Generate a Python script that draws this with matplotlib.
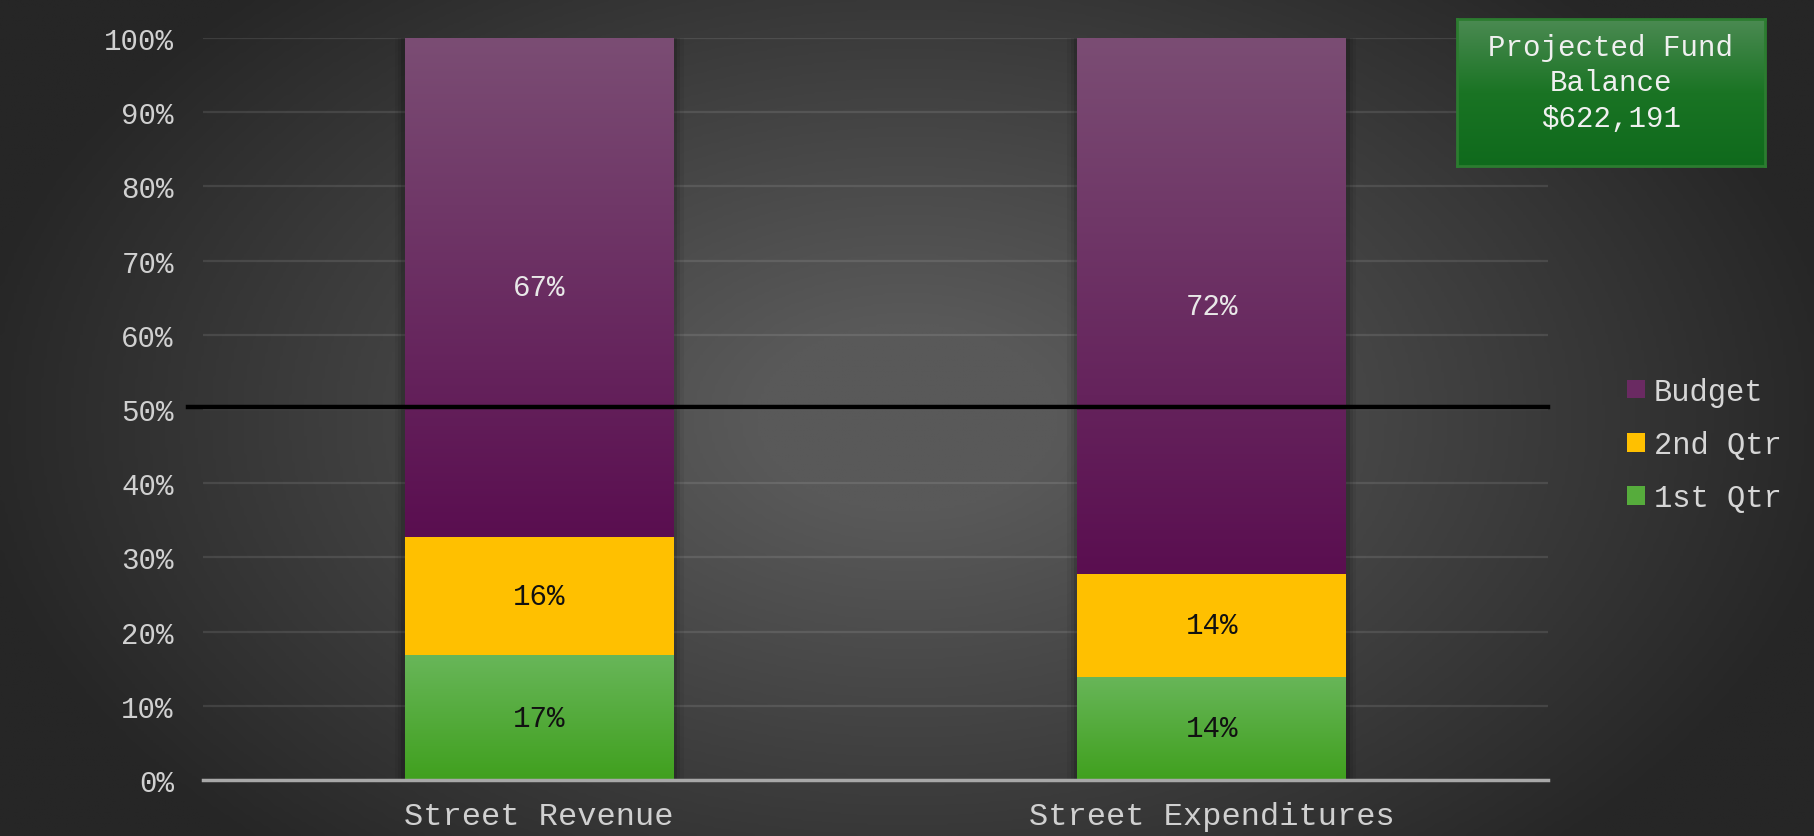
import numpy as np
import matplotlib.pyplot as plt
from matplotlib.colors import LinearSegmentedColormap

plt.rcParams['font.family'] = ['Liberation Mono', 'DejaVu Sans Mono']

categories = ["Street Revenue", "Street Expenditures"]
qtr1 = [0.168, 0.139]
qtr2 = [0.160, 0.139]
budget = [0.672, 0.722]
target = 0.503
fund_text = "Projected Fund\nBalance\n$622,191"

W, H = 1815, 837
fig = plt.figure(figsize=(W / 100, H / 100), dpi=100)

# radial background, broad light centre fading to dark edges
bg = fig.add_axes([0, 0, 1, 1], zorder=-10)
yy, xx = np.mgrid[0:1:300j, 0:1:600j]
r = np.sqrt(((xx - 0.5) / 0.55) ** 2 + ((yy - 0.5) / 0.75) ** 2)
r = np.clip((r - 0.15) / 0.8, 0, 1)
bg_cmap = LinearSegmentedColormap.from_list("bg", ["#595959", "#262626"])
bg.imshow(r, cmap=bg_cmap, aspect="auto", extent=(0, 1, 0, 1), vmin=0, vmax=1)
bg.axis("off")

ax = fig.add_axes([203 / W, 1 - 781 / H, 1345 / W, 742 / H])
ax.set_facecolor("none")
x = np.arange(len(categories))
width = 0.40


def grad_fill(bars, top, bottom):
    cmap = LinearSegmentedColormap.from_list("g", [bottom, top])
    grad = np.linspace(0, 1, 256).reshape(-1, 1)
    for b in bars:
        b.set_facecolor("none")
        x0, y0 = b.get_x(), b.get_y()
        im = ax.imshow(grad, cmap=cmap, origin="lower", aspect="auto",
                       extent=(x0, x0 + b.get_width(), y0, y0 + b.get_height()),
                       zorder=2)
        im.set_clip_path(b)


# soft shadow behind the stacks
totals = np.array(qtr1) + np.array(qtr2) + np.array(budget)
for k, a in [(0.03, 0.06), (0.02, 0.08), (0.01, 0.12)]:
    ax.bar(x, totals, width + k, color="black", alpha=a, linewidth=0, zorder=1)

b1 = ax.bar(x, qtr1, width, color="#4ca22c", zorder=2, linewidth=0, label="1st Qtr")
b2 = ax.bar(x, qtr2, width, bottom=qtr1, color="#ffc000", zorder=2, linewidth=0, label="2nd Qtr")
bottom3 = np.array(qtr1) + np.array(qtr2)
b3 = ax.bar(x, budget, width, bottom=bottom3, color="#5e1152", zorder=2, linewidth=0, label="Budget")
grad_fill(b1, "#68b659", "#40a01e")
grad_fill(b3, "#7b4d74", "#5a0e50")
ax.set_xlim(-0.5, 1.5)
ax.set_ylim(0, 1)

# segment labels
for bars, vals, bots, col in [(b1, qtr1, [0, 0], "#111111"),
                              (b2, qtr2, qtr1, "#111111"),
                              (b3, budget, bottom3, "#e8e8e8")]:
    for i, (v, bt) in enumerate(zip(vals, bots)):
        ax.text(x[i], bt + v / 2, f"{round(v * 100):d}%", ha="center", va="center",
                fontsize=21, color=col, zorder=5)

# target line
ax.plot([-0.0115, 1.0], [target, target], transform=ax.get_yaxis_transform(),
        color="black", lw=3.2, clip_on=False, zorder=6)

ticks = np.arange(0, 1.01, 0.1)
ax.set_yticks(ticks)
ax.set_yticklabels([f"{int(round(t * 100))}%" for t in ticks])
ax.grid(axis="y", color="white", alpha=0.1, lw=1.6, zorder=0)
ax.set_axisbelow(True)
ax.set_xticks(x)
ax.set_xticklabels(categories)
ax.tick_params(axis="y", length=0, pad=21, labelsize=21, labelcolor="#d0d0d0")
ax.tick_params(axis="x", length=0, pad=15, labelsize=23, labelcolor="#d0d0d0")
for s in ["top", "right", "left"]:
    ax.spines[s].set_visible(False)
ax.spines["bottom"].set_color("#a8a8a8")
ax.spines["bottom"].set_linewidth(2.5)
ax.spines["bottom"].set_zorder(7)

handles = [b3, b2, b1]
leg = fig.legend(handles, [h.get_label() for h in handles], loc="center left",
                 bbox_to_anchor=(1600 / W, 1 - 446 / H), frameon=False,
                 fontsize=22, labelcolor="#d6d6d6", handlelength=0.56,
                 handleheight=0.56, handletextpad=0.3, labelspacing=0.76)
leg.legend_handles[0].set_facecolor("#6a2a62")
leg.legend_handles[2].set_facecolor("#56ac3c")

# fund balance box
box = fig.add_axes([1457 / W, 1 - 167 / H, 308 / W, 147 / H])
box_cmap = LinearSegmentedColormap.from_list("box", ["#0f6a1c", "#1a7424", "#4b8a52"])
box.imshow(np.linspace(0, 1, 256).reshape(-1, 1), cmap=box_cmap, origin="lower",
           aspect="auto", extent=(0, 1, 0, 1))
box.set_xticks([])
box.set_yticks([])
for s in box.spines.values():
    s.set_color("#2c7c30")
    s.set_linewidth(2)
box.text(0.5, 0.57, fund_text, ha="center", va="center", fontsize=21,
         color="#f0f0f0", linespacing=1.35, transform=box.transAxes)

fig.savefig("out.png", dpi=100)
